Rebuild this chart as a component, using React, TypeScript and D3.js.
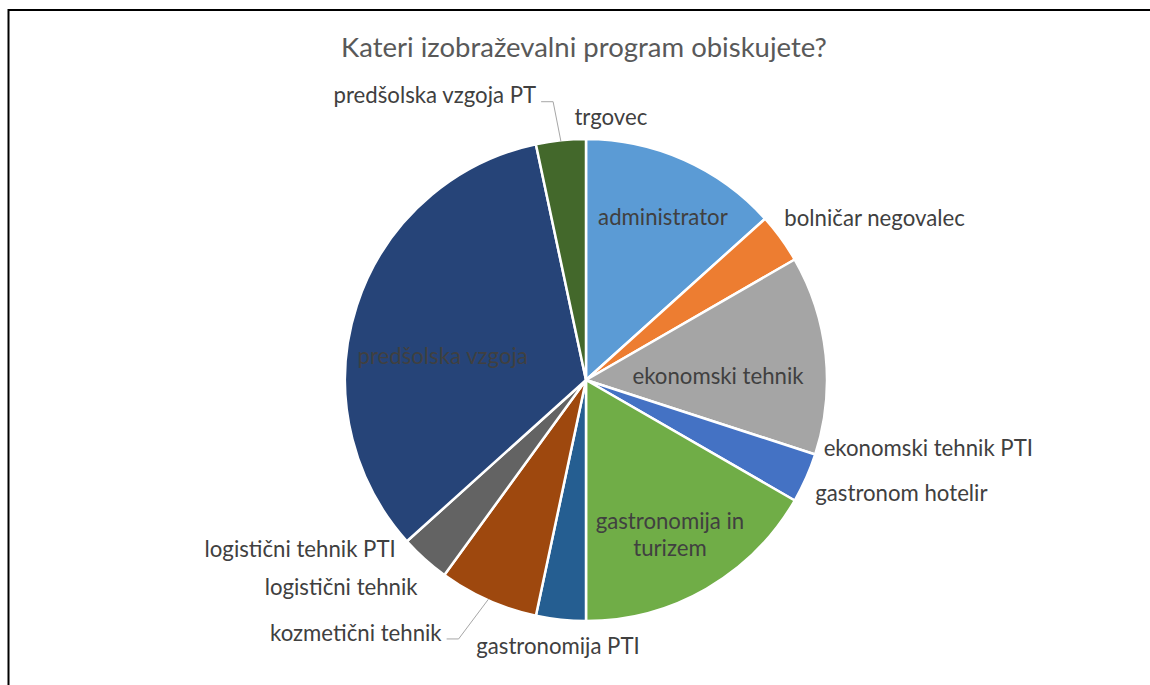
import { useEffect, useRef } from 'react'
import * as d3 from 'd3'

const categories = [
  'administrator',
  'bolničar negovalec',
  'ekonomski tehnik',
  'ekonomski tehnik PTI',
  'gastronom hotelir',
  'gastronomija in turizem',
  'gastronomija PTI',
  'kozmetični tehnik',
  'logistični tehnik',
  'logistični tehnik PTI',
  'predšolska vzgoja',
  'predšolska vzgoja PT',
  'trgovec',
]
const counts = [4, 1, 4, 0, 1, 5, 1, 2, 1, 0, 10, 1, 0]
const colors = [
  '#5B9BD5', '#ED7D31', '#A5A5A5', '#FFC000', '#4472C4', '#70AD47',
  '#255E91', '#9E480E', '#636363', '#997300', '#264478', '#43682B', '#7CAFDD',
]
const title = 'Kateri izobraževalni program obiskujete?'

// label placement relative to each slice: angle shift (deg) from the slice middle, radius as factor of r
const labelLayout: Record<string, { dA: number; rf: number; inside?: boolean; leader?: boolean; lines?: string[] }> = {
  'administrator': { dA: 1.3, rf: 0.747, inside: true },
  'bolničar negovalec': { dA: 6.7, rf: 1.373 },
  'ekonomski tehnik': { dA: 4.3, rf: 0.548, inside: true },
  'ekonomski tehnik PTI': { dA: -6.8, rf: 1.448 },
  'gastronom hotelir': { dA: -4.3, rf: 1.39 },
  'gastronomija in turizem': { dA: 1.5, rf: 0.73, inside: true, lines: ['gastronomija in', 'turizem'] },
  'gastronomija PTI': { dA: 0, rf: 1.112 },
  'kozmetični tehnik': { dA: 18.3, rf: 1.419, leader: true },
  'logistični tehnik': { dA: 7.7, rf: 1.332 },
  'logistični tehnik PTI': { dA: 11.4, rf: 1.378 },
  'predšolska vzgoja': { dA: -8.5, rf: 0.603, inside: true },
  'predšolska vzgoja PT': { dA: -22, rf: 1.336, leader: true },
  'trgovec': { dA: 5.4, rf: 1.095 },
}

const W = 1150
const H = 685
const FONT = 'Lato, "Open Sans", sans-serif'

export default function App() {
  const svgRef = useRef<SVGSVGElement>(null)

  useEffect(() => {
    const svg = d3.select(svgRef.current)
    svg.selectAll('*').remove()

    const cx = 586
    const cy = 380
    const r = 241

    // chart border (only top and left visible)
    svg.append('path')
      .attr('d', `M8.5,${H + 2} V10 H${W + 2}`)
      .attr('fill', 'none')
      .attr('stroke', '#000')
      .attr('stroke-width', 2)

    svg.append('text')
      .attr('x', cx - 2)
      .attr('y', 57)
      .attr('text-anchor', 'middle')
      .attr('font-family', FONT)
      .attr('font-size', 27.5)
      .attr('fill', '#595959')
      .text(title)

    const data = categories.map((c, i) => ({ c, v: counts[i], color: colors[i] }))
    const pie = d3.pie<any>().sort(null).value(d => d.v).startAngle(0).endAngle(2 * Math.PI)
    const arcs = pie(data)
    const arc = d3.arc<any>().innerRadius(0).outerRadius(r)

    const g = svg.append('g').attr('transform', `translate(${cx},${cy})`)

    g.selectAll('path.slice')
      .data(arcs.filter(a => a.data.v > 0))
      .enter()
      .append('path')
      .attr('class', 'slice')
      .attr('d', arc as any)
      .attr('fill', d => d.data.color)
      .attr('stroke', '#fff')
      .attr('stroke-width', 2.5)
      .attr('stroke-linejoin', 'round')

    const polar = (a: number, rad: number) => [rad * Math.sin(a), -rad * Math.cos(a)]

    arcs.forEach(a => {
      const lay = labelLayout[a.data.c]
      const mid = (a.startAngle + a.endAngle) / 2
      const ang = mid + (lay.dA * Math.PI) / 180
      const [lx, ly] = polar(ang, lay.rf * r)
      const lines = lay.lines || [a.data.c]
      const t = g.append('text')
        .attr('text-anchor', 'middle')
        .attr('font-family', FONT)
        .attr('font-size', 22.2)
        .attr('fill', '#404040')
      lines.forEach((ln, i) => {
        t.append('tspan')
          .attr('x', lx)
          .attr('y', ly + (i - (lines.length - 1) / 2) * 27)
          .attr('dy', '0.35em')
          .text(ln)
      })

      if (lay.leader) {
        const node = t.node() as SVGTextElement
        const tw = node.getComputedTextLength()
        const sx = lx + tw / 2 + 5
        const sy = ly + 6
        const [ex, ey] = polar(mid, r - 1)
        g.append('path')
          .attr('d', `M${sx},${sy} H${sx + 12} L${ex},${ey}`)
          .attr('fill', 'none')
          .attr('stroke', '#A6A6A6')
          .attr('stroke-width', 1)
      }
    })
  }, [])

  return (
    <svg
      ref={svgRef}
      width={W}
      height={H}
      style={{ position: 'absolute', left: 0, top: 0, background: '#fff' }}
    />
  )
}
